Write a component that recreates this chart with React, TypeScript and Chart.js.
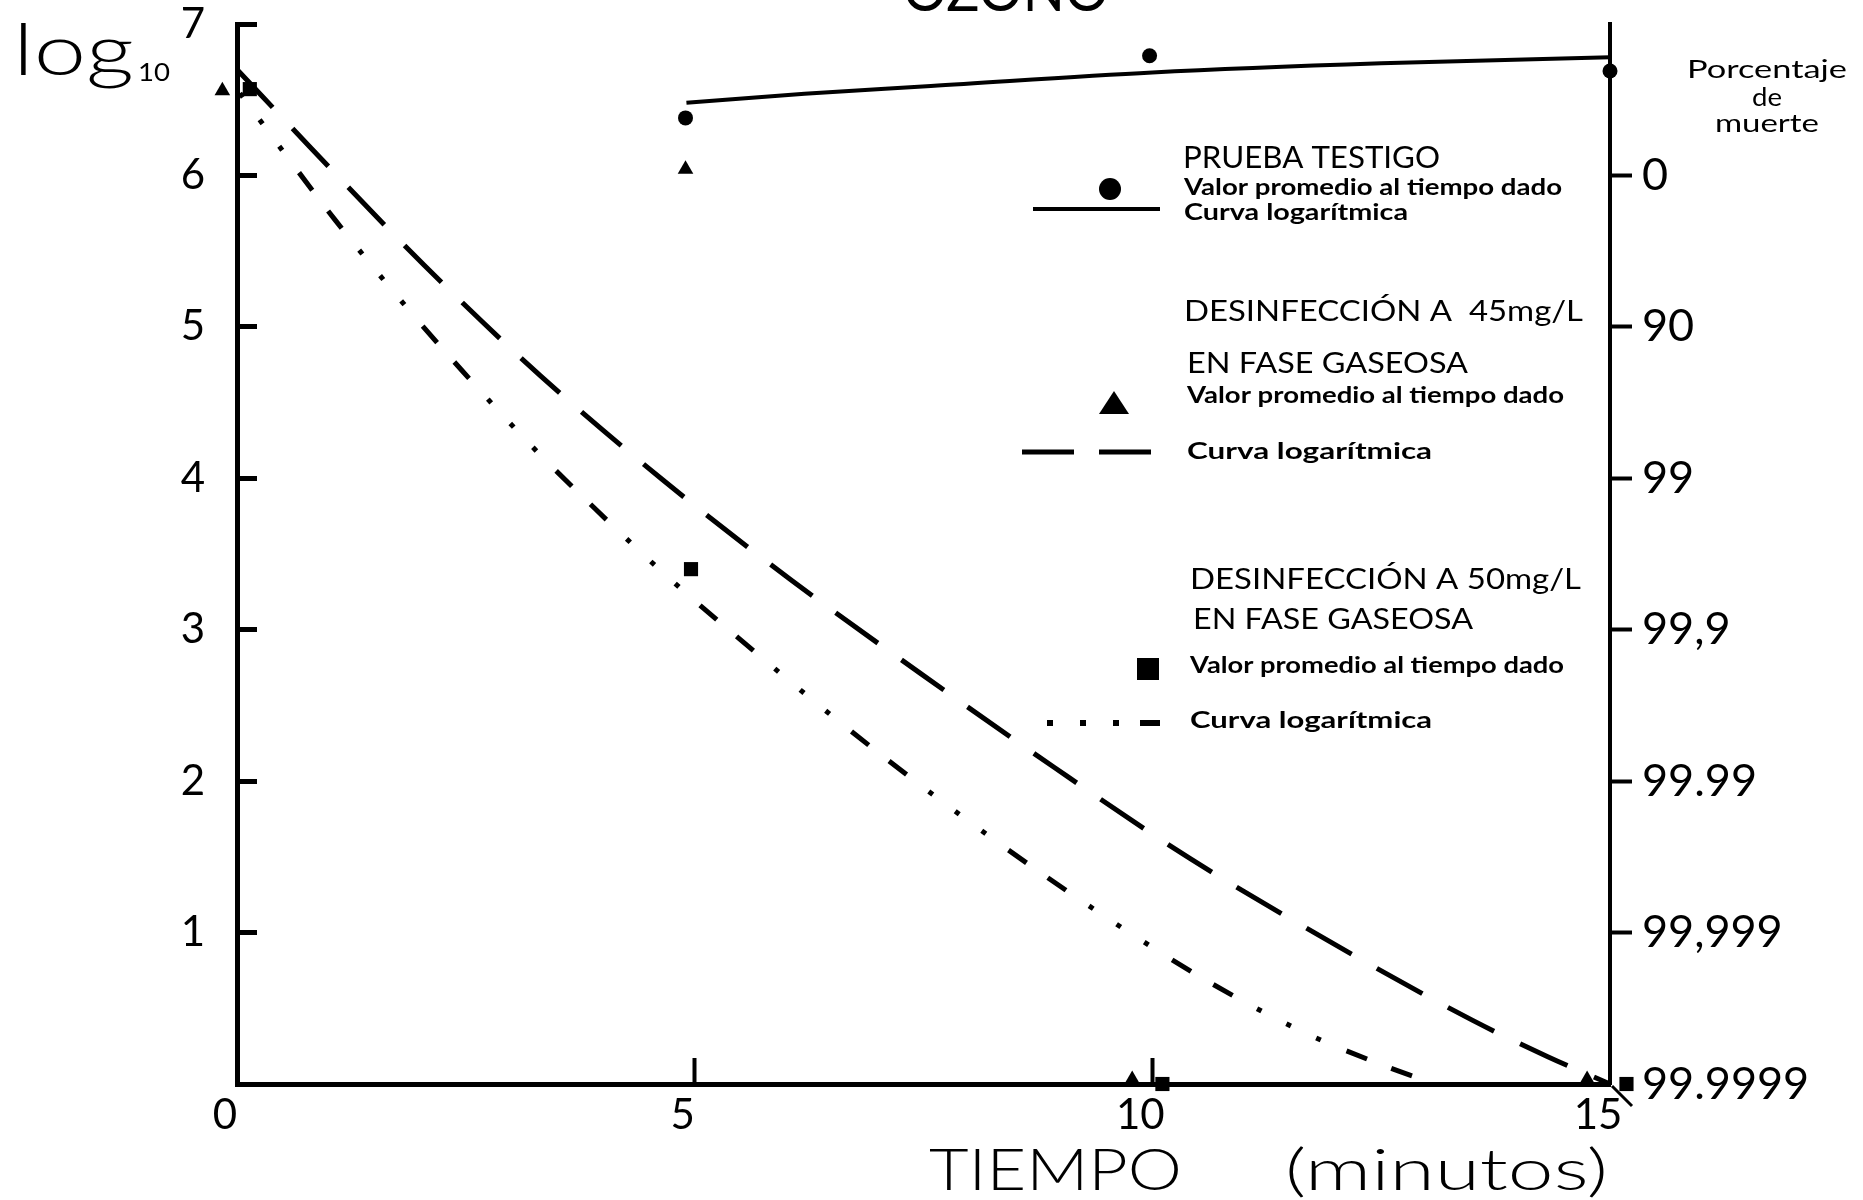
import React, { useEffect, useRef } from 'react';
import { Chart, registerables } from 'chart.js';

Chart.register(...registerables);

// ---------- data ----------
const TIME_TICKS = [0, 5, 10, 15];
const LEFT_TICK_LABELS = ['', '1', '2', '3', '4', '5', '6', '7'];
const RIGHT_TICK_LABELS = ['99.9999', '99,999', '99.99', '99,9', '99', '90', '0', ''];

// Prueba testigo (control)
const TESTIGO_T = [4.9, 9.97, 15.0];
const TESTIGO_LOG = [6.38, 6.79, 6.69];
const TESTIGO_CURVE_T = [4.91, 6.2, 7.58, 10.0, 12.5, 15.0];
const TESTIGO_CURVE_LOG = [6.48, 6.54, 6.59, 6.68, 6.74, 6.78];

// Desinfección 45 mg/L
const D45_T = [-0.16, 4.9, 9.78, 14.75];
const D45_LOG = [6.56, 6.04, 0.03, 0.03];
const D45_CURVE_T = [0, 0.81, 2.04, 3.31, 4.65, 6.05, 7.47, 8.93, 10.41, 11.94, 13.5, 14.32, 15.0];
const D45_CURVE_LOG = [6.7, 6.18, 5.41, 4.68, 3.99, 3.33, 2.71, 2.09, 1.49, 0.94, 0.42, 0.18, 0.0];

// Desinfección 50 mg/L
const D50_T = [0.14, 4.96, 10.11, 15.18];
const D50_LOG = [6.57, 3.4, 0.0, 0.0];
const D50_CURVE_T = [0, 0.49, 1.08, 1.81, 2.46, 3.24, 3.91, 4.74, 5.47, 6.36, 7.13, 8.05, 8.84, 9.8, 10.63, 11.66, 12.58, 13.0];
const D50_CURVE_LOG = [6.57, 6.17, 5.7, 5.16, 4.71, 4.2, 3.8, 3.33, 2.95, 2.5, 2.13, 1.71, 1.37, 0.98, 0.67, 0.34, 0.11, 0.02];

const pts = (xs: number[], ys: number[]) => xs.map((x, i) => ({ x, y: ys[i] }));

const FONT = 'Lato, "DejaVu Sans", sans-serif';

function fit(ctx: CanvasRenderingContext2D, text: string, x: number, y: number, w: number, font: string) {
  ctx.save();
  ctx.font = font;
  const m = ctx.measureText(text).width || 1;
  ctx.translate(x, y);
  ctx.scale(w / m, 1);
  ctx.textAlign = 'left';
  ctx.textBaseline = 'alphabetic';
  ctx.fillText(text, 0, 0);
  ctx.restore();
}

function fitCenter(ctx: CanvasRenderingContext2D, text: string, cx: number, y: number, w: number, font: string) {
  fit(ctx, text, cx - w / 2, y, w, font);
}

const annotations = {
  id: 'annotations',
  beforeDraw(chart: any) {
    const ctx = chart.ctx as CanvasRenderingContext2D;
    ctx.save();
    ctx.fillStyle = '#ffffff';
    ctx.fillRect(0, 0, chart.width, chart.height);
    ctx.restore();
  },
  afterDraw(chart: any) {
    const ctx = chart.ctx as CanvasRenderingContext2D;
    ctx.save();
    ctx.fillStyle = '#000';
    ctx.strokeStyle = '#000';

    // title (cut off at the top in the original)
    fit(ctx, 'OZONO', 903, 11, 206, `400 60px ${FONT}`);

    // y axis caption
    fit(ctx, 'log', 13, 75, 121, `300 70px ${FONT}`);
    fit(ctx, '10', 138, 81, 32, `400 25px ${FONT}`);

    // right caption
    fitCenter(ctx, 'Porcentaje', 1767, 78, 160, `400 25px ${FONT}`);
    fitCenter(ctx, 'de', 1767, 106, 30, `400 25px ${FONT}`);
    fitCenter(ctx, 'muerte', 1767, 132, 104, `400 25px ${FONT}`);

    // x axis caption
    fit(ctx, 'TIEMPO', 929, 1190, 253, `300 58px ${FONT}`);
    fit(ctx, '(minutos)', 1285, 1190, 323, `300 58px ${FONT}`);

    // ---- legend ----
    const head = `400 30px ${FONT}`;
    const head2 = `400 28px ${FONT}`;
    const sub = `700 23px ${FONT}`;

    fit(ctx, 'PRUEBA TESTIGO', 1183, 168, 257, head);
    ctx.beginPath();
    ctx.arc(1110, 189, 11, 0, Math.PI * 2);
    ctx.fill();
    fit(ctx, 'Valor promedio al tiempo dado', 1184, 195, 378, sub);
    ctx.lineWidth = 4;
    ctx.setLineDash([]);
    ctx.beginPath();
    ctx.moveTo(1033, 209);
    ctx.lineTo(1160, 209);
    ctx.stroke();
    fit(ctx, 'Curva logarítmica', 1184, 220, 224, sub);

    fit(ctx, 'DESINFECCIÓN A  45mg/L', 1184, 321, 399, head2);
    fit(ctx, 'EN FASE GASEOSA', 1187, 373, 281, head2);
    ctx.beginPath();
    ctx.moveTo(1114, 391);
    ctx.lineTo(1129, 414);
    ctx.lineTo(1099, 414);
    ctx.closePath();
    ctx.fill();
    fit(ctx, 'Valor promedio al tiempo dado', 1187, 403, 377, sub);
    ctx.lineWidth = 5;
    ctx.beginPath();
    ctx.moveTo(1022, 452);
    ctx.lineTo(1074, 452);
    ctx.moveTo(1099, 452);
    ctx.lineTo(1151, 452);
    ctx.stroke();
    fit(ctx, 'Curva logarítmica', 1187, 459, 245, sub);

    fit(ctx, 'DESINFECCIÓN A 50mg/L', 1190, 589, 391, head2);
    fit(ctx, 'EN FASE GASEOSA', 1193, 629, 280, head2);
    ctx.fillRect(1137, 658, 22, 22);
    fit(ctx, 'Valor promedio al tiempo dado', 1190, 673, 374, sub);
    [1050, 1083, 1116].forEach((x) => ctx.fillRect(x - 3, 720, 6, 6));
    ctx.fillRect(1140, 720, 20, 6);
    fit(ctx, 'Curva logarítmica', 1190, 728, 242, sub);

    // small stroke at the lower right corner of the frame
    ctx.lineWidth = 3;
    ctx.beginPath();
    ctx.moveTo(chart.chartArea.right + 2, chart.chartArea.bottom + 2);
    ctx.lineTo(chart.chartArea.right + 22, chart.chartArea.bottom + 22);
    ctx.stroke();

    ctx.restore();
  },
};

export default function App() {
  const ref = useRef<HTMLCanvasElement | null>(null);

  useEffect(() => {
    if (!ref.current) return;
    const tickFont = { family: FONT, size: 42, weight: 400 as any };
    const noPadV = (s: any) => {
      s.paddingTop = 0;
      s.paddingBottom = 0;
    };
    const chart = new Chart(ref.current, {
      type: 'line',
      data: {
        datasets: [
          {
            data: pts(TESTIGO_CURVE_T, TESTIGO_CURVE_LOG),
            borderColor: '#000',
            borderWidth: 4,
            pointRadius: 0,
            cubicInterpolationMode: 'monotone',
            fill: false,
            clip: false as any,
          },
          {
            data: pts(D45_CURVE_T, D45_CURVE_LOG),
            borderColor: '#000',
            borderWidth: 5,
            borderDash: [52, 29],
            borderDashOffset: 0,
            pointRadius: 0,
            cubicInterpolationMode: 'monotone',
            fill: false,
            clip: false as any,
          },
          {
            data: pts(D50_CURVE_T, D50_CURVE_LOG),
            borderColor: '#000',
            borderWidth: 5,
            borderDash: [22, 26, 22, 28, 5, 28, 5, 28, 5, 28],
            borderDashOffset: 93,
            borderCapStyle: 'butt',
            pointRadius: 0,
            cubicInterpolationMode: 'monotone',
            fill: false,
            clip: false as any,
          },
          {
            data: pts(TESTIGO_T, TESTIGO_LOG),
            showLine: false,
            pointStyle: 'circle',
            pointRadius: 7.5,
            pointBackgroundColor: '#000',
            pointBorderColor: 'rgba(0,0,0,0)',
            pointBorderWidth: 12,
            clip: false as any,
          },
          {
            data: pts(D45_T, D45_LOG),
            showLine: false,
            pointStyle: 'triangle',
            pointRadius: 9,
            pointBackgroundColor: '#000',
            pointBorderColor: 'rgba(0,0,0,0)',
            pointBorderWidth: 12,
            clip: false as any,
          },
          {
            data: pts(D50_T, D50_LOG),
            showLine: false,
            pointStyle: 'rect',
            pointRadius: 10,
            pointBackgroundColor: '#000',
            pointBorderColor: 'rgba(0,0,0,0)',
            pointBorderWidth: 12,
            clip: false as any,
          },
        ],
      },
      options: {
        animation: false,
        responsive: false,
        devicePixelRatio: 1,
        events: [],
        layout: { padding: { top: 24, left: 0, right: 0, bottom: 0 }, autoPadding: false } as any,
        plugins: {
          legend: { display: false },
          tooltip: { enabled: false },
          title: { display: false },
        },
        scales: {
          x: {
            type: 'linear',
            position: 'bottom',
            min: 0,
            max: 15,
            afterBuildTicks: (s: any) => {
              s.ticks = TIME_TICKS.map((v) => ({ value: v }));
            },
            afterFit: (s: any) => {
              s.height = 116;
              s.paddingLeft = 0;
              s.paddingRight = 0;
            },
            ticks: {
              font: tickFont,
              color: '#000',
              padding: 32,
              labelOffset: -12,
              maxRotation: 0,
              autoSkip: false,
              callback: (v: any) => String(v),
            },
            grid: {
              drawOnChartArea: false,
              drawTicks: true,
              tickLength: -26,
              tickWidth: 4,
              tickColor: (c: any) => (c.tick && (c.tick.value === 5 || c.tick.value === 10) ? '#000' : 'rgba(0,0,0,0)'),
            },
            border: { display: true, color: '#000', width: 5 },
          },
          y: {
            type: 'linear',
            position: 'left',
            min: 0,
            max: 7,
            afterFit: (s: any) => {
              s.width = 237;
              noPadV(s);
            },
            ticks: {
              stepSize: 1,
              font: tickFont,
              color: '#000',
              padding: 52,
              autoSkip: false,
              callback: (v: any) => LEFT_TICK_LABELS[Math.round(Number(v))] ?? '',
            },
            grid: {
              drawOnChartArea: false,
              drawTicks: true,
              tickLength: -20,
              tickWidth: 5,
              tickColor: (c: any) => (c.tick && c.tick.value > 0 ? '#000' : 'rgba(0,0,0,0)'),
            },
            border: { display: true, color: '#000', width: 5 },
          },
          y2: {
            type: 'linear',
            position: 'right',
            min: 0,
            max: 7,
            afterFit: (s: any) => {
              s.width = 253;
              noPadV(s);
            },
            ticks: {
              stepSize: 1,
              font: { family: FONT, size: 45, weight: 400 as any },
              color: '#000',
              padding: 10,
              autoSkip: false,
              callback: (v: any) => RIGHT_TICK_LABELS[Math.round(Number(v))] ?? '',
            },
            grid: {
              drawOnChartArea: false,
              drawTicks: true,
              tickLength: 22,
              tickWidth: 4,
              tickColor: (c: any) => (c.tick && c.tick.value >= 1 && c.tick.value <= 6 ? '#000' : 'rgba(0,0,0,0)'),
            },
            border: { display: true, color: '#000', width: 4 },
          },
        },
      },
      plugins: [annotations],
    } as any);
    return () => chart.destroy();
  }, []);

  return (
    <div style={{ position: 'fixed', left: 0, top: 0, width: 1863, height: 1200, background: '#fff' }}>
      <canvas ref={ref} width={1863} height={1200} style={{ display: 'block', width: 1863, height: 1200 }} />
    </div>
  );
}
